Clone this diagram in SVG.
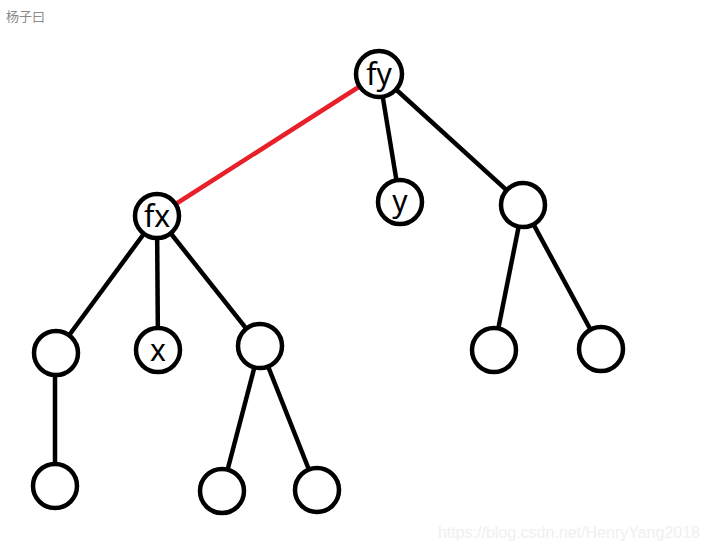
<svg xmlns="http://www.w3.org/2000/svg" width="709" height="549" viewBox="0 0 709 549">
<style>
.n{fill:#fff;stroke:#000;stroke-width:4.5}
.e{stroke:#000;stroke-width:4.5;fill:none}
.r{stroke:#e8202a;stroke-width:4.5;fill:none}
.t{font-family:"Noto Sans","DejaVu Sans",sans-serif;font-size:30px;fill:#000;text-anchor:middle}
</style>
<rect width="709" height="549" fill="#fff"/>
<text x="6" y="21" font-family="Noto Sans CJK SC, sans-serif" font-size="13" fill="#8a8a8a">杨子曰</text>
<g id="connectors">
<line class="r" x1="379" y1="74" x2="157" y2="216"/>
<line class="e" x1="379" y1="74" x2="400" y2="202"/>
<line class="e" x1="379" y1="74" x2="523" y2="205"/>
<line class="e" x1="157" y1="216" x2="56" y2="353"/>
<line class="e" x1="157" y1="216" x2="158" y2="350"/>
<line class="e" x1="157" y1="216" x2="260" y2="346"/>
<line class="e" x1="55" y1="353" x2="55" y2="486"/>
<line class="e" x1="260" y1="346" x2="222" y2="491"/>
<line class="e" x1="260" y1="346" x2="317" y2="490"/>
<line class="e" x1="523" y1="205" x2="494" y2="350"/>
<line class="e" x1="523" y1="205" x2="601" y2="349"/>
</g>
<g id="fy"><circle class="n" cx="379" cy="74" r="23"/><text class="t" x="379" y="85">fy</text></g>
<g id="fx"><circle class="n" cx="157" cy="216" r="22"/><text class="t" x="157" y="227">fx</text></g>
<g id="y"><circle class="n" cx="400" cy="202" r="22"/><text class="t" x="400" y="212">y</text></g>
<g id="r1"><circle class="n" cx="523" cy="205" r="22"/></g>
<g id="a1"><circle class="n" cx="56" cy="353" r="22"/></g>
<g id="x"><circle class="n" cx="158" cy="350" r="22"/><text class="t" x="158" y="361">x</text></g>
<g id="b1"><circle class="n" cx="260" cy="346" r="22"/></g>
<g id="a2"><circle class="n" cx="55" cy="486" r="22"/></g>
<g id="b2"><circle class="n" cx="222" cy="491" r="22"/></g>
<g id="b3"><circle class="n" cx="317" cy="490" r="22"/></g>
<g id="r2"><circle class="n" cx="494" cy="350" r="22"/></g>
<g id="r3"><circle class="n" cx="601" cy="349" r="22"/></g>
<text x="700" y="538" font-family="Liberation Sans, Arial, sans-serif" font-size="16" fill="#f0f0f0" text-anchor="end">https://blog.csdn.net/HenryYang2018</text>
</svg>
